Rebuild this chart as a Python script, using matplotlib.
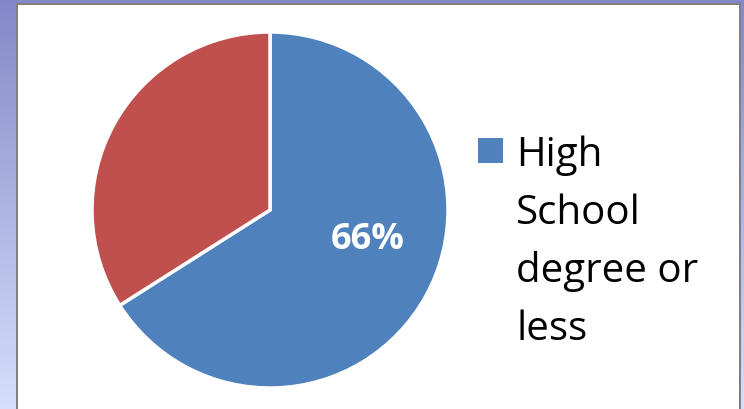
import numpy as np
import matplotlib
matplotlib.use("Agg")
import matplotlib.pyplot as plt
from matplotlib.patches import Rectangle

# datos
categorias = ["High\nSchool\ndegree or\nless", "Other"]
proporcion = [66, 34]
colores = ["#4F81BD", "#C0504D"]

W, H = 744, 409
fig = plt.figure(figsize=(W / 100, H / 100), dpi=100)

# fondo con degradado (marco morado)
bg = fig.add_axes([0, 0, 1, 1])
grad = np.linspace(0, 1, 256).reshape(-1, 1)
top = np.array([0x84, 0x88, 0xC8]) / 255
bottom = np.array([0xD4, 0xE0, 0xFC]) / 255
img = top + (bottom - top) * grad[:, :, None]
bg.imshow(img, aspect="auto", extent=[0, W, H, 0])
bg.set_xlim(0, W)
bg.set_ylim(H, 0)
bg.axis("off")
# caja blanca con borde gris
bg.add_patch(Rectangle((16, 3), 725, H, facecolor="#808080", edgecolor="none"))
bg.add_patch(Rectangle((18, 5), 721, H, facecolor="white", edgecolor="none"))

# pastel
r = 178
cx, cy = 270, 210
ax = fig.add_axes([(cx - r) / W, 1 - (cy + r) / H, 2 * r / W, 2 * r / H])
wedges, _ = ax.pie(proporcion, colors=colores, startangle=90, counterclock=False,
                   wedgeprops=dict(edgecolor="white", linewidth=2.5))
ax.set_xlim(-1, 1)
ax.set_ylim(-1, 1)
ax.set_aspect("auto")
ax.text(0.55, -0.17, "66%", color="white", fontsize=26, fontweight="bold",
        ha="center", va="center", family="Open Sans")

# leyenda (solo la primera categoria)
bg.add_patch(Rectangle((478, 138), 25, 25, facecolor=colores[0], edgecolor="none"))
bg.text(516, 136, categorias[0], fontsize=29, family="Open Sans", va="top", ha="left",
        linespacing=1.56, color="black")

fig.savefig("out.png", dpi=100)
